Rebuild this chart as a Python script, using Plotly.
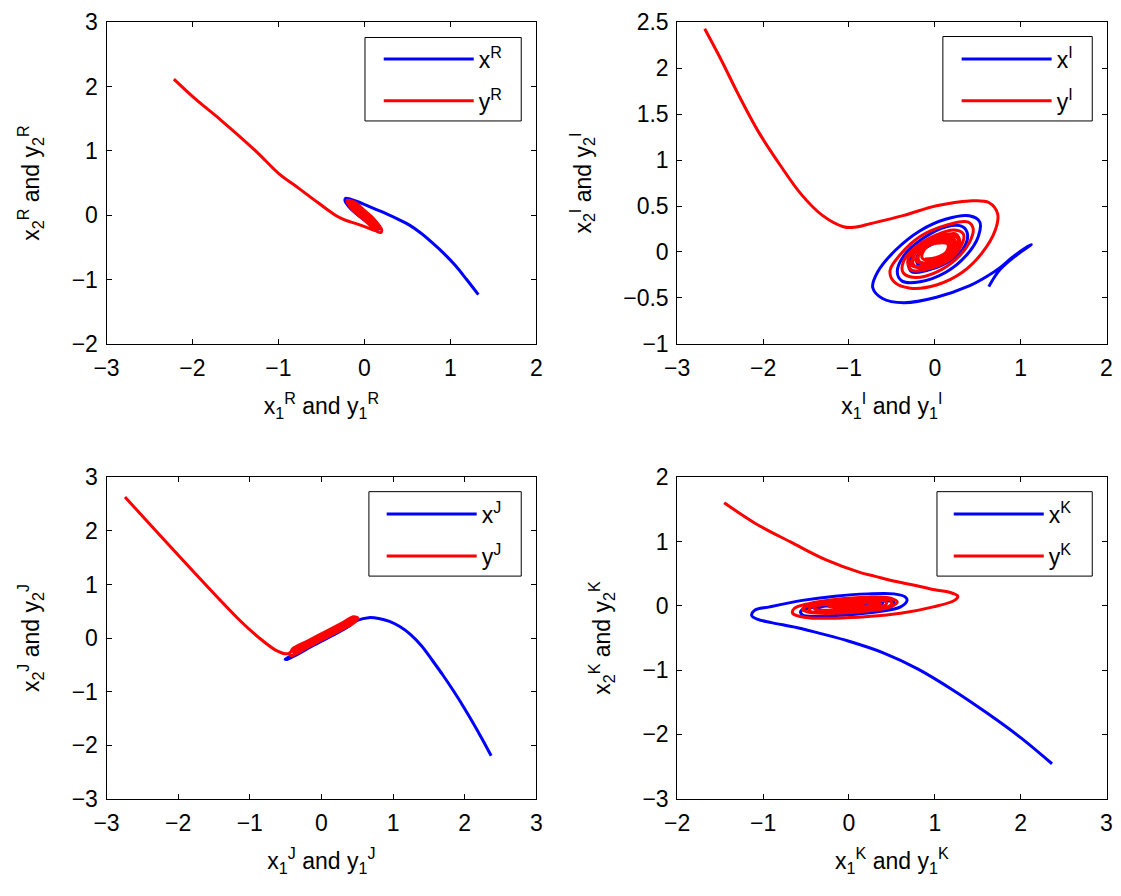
import plotly.graph_objects as go

# ---------------- data ----------------
# Panel R
R_x_1 = [1.326, 1.19, 1.059, 0.93, 0.792, 0.66, 0.525, 0.39, 0.259, 0.12, -0.008, -0.161, -0.218, -0.225,
         -0.180, -0.046, 0.106, 0.163, 0.144, 0.0, -0.17, -0.15, 0.0, 0.12, 0.0]
R_x_2 = [-1.235, -1.0, -0.782, -0.6, -0.430, -0.28, -0.154, -0.06, 0.022, 0.10, 0.173, 0.248, 0.264, 0.224,
         0.133, -0.028, -0.169, -0.219, -0.154, 0.02, 0.2, 0.15, -0.02, -0.15, 0.0]
R_y_1 = [-2.216, -1.96, -1.67, -1.265, -0.999, -0.770, -0.542, -0.332, -0.237, -0.046, 0.125, 0.190, 0.202,
         0.1, 0.0, -0.1, -0.2, -0.15, 0.0, 0.1, 0.16, 0.1, 0.0, -0.1, -0.17, -0.1, 0.0, 0.1, 0.13, 0.05,
         -0.05, -0.13, -0.05, 0.05, 0.08, 0.0, -0.08, 0.0]
R_y_2 = [2.116, 1.80, 1.48, 1.0, 0.651, 0.425, 0.198, -0.003, -0.068, -0.154, -0.239, -0.269, -0.229,
         -0.042, 0.075, 0.192, 0.228, 0.10, -0.075, -0.192, -0.205, -0.075, 0.04, 0.16, 0.195, 0.082, -0.04,
         -0.16, -0.165, -0.046, 0.07, 0.155, 0.035, -0.08, -0.1, 0.01, 0.1, 0.0]

# Panel I
I_x_1 = [0.629, 0.69, 0.76, 0.93, 1.124, 1.05, 0.90, 0.76, 0.60, 0.40, 0.020, -0.361, -0.609, -0.723, -0.666,
         -0.456, -0.171, 0.134, 0.401, 0.523, 0.507, 0.363, 0.134, -0.171, -0.380, -0.437, -0.361, -0.132,
         0.134, 0.325, 0.382, 0.325, 0.134, -0.094, -0.266, -0.304, -0.171, 0.058, 0.248, 0.279, 0.172,
         -0.018, -0.190, -0.209, -0.075, 0.134, 0.191, 0.058, -0.094]
I_x_2 = [-0.377, -0.28, -0.19, -0.05, 0.081, 0.04, -0.06, -0.17, -0.27, -0.37, -0.493, -0.553, -0.507, -0.387,
         -0.218, 0.021, 0.232, 0.359, 0.394, 0.327, 0.169, -0.042, -0.218, -0.324, -0.317, -0.218, -0.042,
         0.151, 0.275, 0.275, 0.187, 0.028, -0.120, -0.201, -0.218, -0.130, 0.046, 0.158, 0.176, 0.099,
         -0.042, -0.130, -0.141, -0.060, 0.063, 0.116, 0.046, -0.060, -0.095]
I_y_1 = [-2.68, -2.496, -2.29, -2.046, -1.80, -1.555, -1.309, -1.064, -0.941, -0.742, -0.361, 0.020, 0.401,
         0.629, 0.732, 0.705, 0.553, 0.325, 0.020, -0.285, -0.475, -0.521, -0.399, -0.171, 0.134, 0.382, 0.446,
         0.401, 0.248, 0.020, -0.228, -0.369, -0.361, -0.209, 0.020, 0.229, 0.332, 0.306, 0.153, -0.075,
         -0.266, -0.315, -0.295, -0.123, 0.096, 0.248, 0.29, 0.2, 0.03, -0.165, -0.285, -0.254, -0.228,
         -0.037, 0.172, 0.267, 0.248, 0.096, -0.094, -0.239, -0.254, -0.19, -0.008, 0.182, 0.242, 0.19,
         0.03, -0.136, -0.222, -0.190, -0.152, 0.020, 0.191, 0.218, 0.134, -0.037, -0.178, -0.190, -0.123,
         0.04, 0.172, 0.176, 0.077, -0.075, -0.15, -0.094, 0.058, 0.153, 0.134, 0.020, -0.113]
I_y_2 = [2.43, 2.106, 1.718, 1.296, 0.944, 0.627, 0.398, 0.275, 0.268, 0.310, 0.398, 0.503, 0.556, 0.539,
         0.415, 0.239, -0.007, -0.218, -0.359, -0.394, -0.324, -0.201, -0.025, 0.169, 0.292, 0.327, 0.257,
         0.099, -0.077, -0.218, -0.278, -0.225, -0.095, 0.063, 0.187, 0.240, 0.197, 0.063, -0.095, -0.183,
         -0.201, -0.120, -0.05, 0.09, 0.18, 0.196, 0.105, -0.015, -0.13, -0.175, -0.135, -0.07, 0.0,
         0.116, 0.176, 0.151, 0.046, -0.077, -0.148, -0.148, -0.070, 0.018, 0.116, 0.155, 0.113, 0.01,
         -0.09, -0.127, -0.09, -0.042, 0.035, 0.116, 0.134, 0.081, -0.025, -0.106, -0.106, -0.042, 0.045,
         0.108, 0.108, 0.04, -0.043, -0.09, -0.06, 0.056, 0.099, 0.081, 0.0, -0.060, -0.077]

# Panel J
J_x_1 = [2.37, 2.25, 2.15, 2.0, 1.85, 1.7, 1.55, 1.4, 1.25, 1.1, 0.95, 0.8, 0.66, 0.5, 0.3, 0.0, -0.3,
         -0.46, -0.507, -0.48, -0.4, -0.1, 0.2, 0.42, 0.40, 0.1, -0.2, -0.35, 0.0]
J_x_2 = [-2.2, -1.9, -1.66, -1.32, -1.0, -0.70, -0.42, -0.15, 0.06, 0.21, 0.31, 0.365, 0.38, 0.33, 0.18,
         -0.03, -0.25, -0.36, -0.396, -0.40, -0.35, -0.13, 0.08, 0.25, 0.25, 0.03, -0.18, -0.28, 0.0]
J_y_1 = [-2.742, -1.148, -0.873, -0.645, -0.507, -0.44, -0.4, -0.2, 0.1, 0.3, 0.45, 0.51, 0.45, 0.3, 0.1,
         -0.2, -0.42, -0.45, -0.4, -0.2, 0.1, 0.3, 0.46, 0.44, 0.3, 0.1, -0.2, -0.38, -0.35, 0.1, 0.4, 0.35,
         0.0]
J_y_2 = [2.634, 0.341, 0.008, -0.221, -0.294, -0.28, -0.20, -0.06, 0.15, 0.29, 0.395, 0.37, 0.28, 0.17,
         0.03, -0.18, -0.33, -0.29, -0.24, -0.095, 0.115, 0.255, 0.36, 0.315, 0.205, 0.065, -0.145, -0.27,
         -0.22, 0.09, 0.30, 0.25, 0.0]

# Panel K
K_x_1 = [2.365, 2.0, 1.6, 1.2, 0.8, 0.4, 0.0, -0.3, -0.6, -0.9, -1.06, -1.132, -1.10,
         -0.923, -0.541, -0.161, 0.220, 0.525, 0.658, 0.677, 0.601, 0.334, -0.047, -0.389, -0.542, -0.561,
         -0.427, -0.047, 0.334, 0.525, 0.506, 0.220, -0.161, -0.370, -0.351, 0.030, 0.392, 0.334, 0.0]
K_x_2 = [-2.457, -2.05, -1.66, -1.3, -0.98, -0.73, -0.55, -0.44, -0.34, -0.26, -0.21, -0.151, -0.07,
         -0.015, 0.086, 0.151, 0.187, 0.187, 0.136, 0.086, -0.015, -0.090, -0.141, -0.166, -0.141, -0.080,
         -0.025, 0.036, 0.071, 0.061, 0.0, -0.060, -0.090, -0.080, -0.030, 0.021, 0.041, -0.005, 0.0]
K_y_1 = [-1.453, -1.084, -0.675, -0.266, 0.143, 0.296, 0.55, 0.791, 1.0, 1.172, 1.268, 1.230, 0.982, 0.601,
         0.220, -0.161, -0.504, -0.656, -0.637, -0.466, -0.161, 0.220, 0.486, 0.563, 0.486, 0.220, -0.161,
         -0.466, -0.542, -0.5, -0.161, 0.220, 0.46, 0.5, 0.46, 0.220, -0.161, -0.46, -0.427, -0.161, 0.220,
         0.430, 0.430, 0.220, -0.161, -0.389, -0.408, -0.161, 0.220, 0.372, 0.220, -0.123, -0.237, -0.046,
         0.182]
K_y_2 = [1.606, 1.279, 0.992, 0.715, 0.514, 0.464, 0.38, 0.313, 0.25, 0.212, 0.151, 0.086, -0.015, -0.115,
         -0.166, -0.191, -0.181, -0.115, -0.040, 0.036, 0.101, 0.136, 0.121, 0.061, -0.015, -0.080, -0.115,
         -0.100, -0.050, -0.015, 0.081, 0.111, 0.1, 0.045, -0.01, -0.055, -0.09, -0.075, 0.010, 0.061,
         0.086, 0.071, 0.020, -0.030, -0.065, -0.055, -0.015, 0.031, 0.051, 0.036, 0.0, -0.025, -0.015,
         0.01, 0.021]

panels = [
    ("R", R_x_1, R_x_2, R_y_1, R_y_2, [-3, 2], [-2, 3], 1),
    ("I", I_x_1, I_x_2, I_y_1, I_y_2, [-3, 2], [-1, 2.5], 0.5),
    ("J", J_x_1, J_x_2, J_y_1, J_y_2, [-3, 3], [-3, 3], 1),
    ("K", K_x_1, K_x_2, K_y_1, K_y_2, [-2, 3], [-3, 2], 1),
]

# The page adds an 8 px body margin, so the figure is 16 px smaller than the window
OFF = 8
W, H = 1121 - 2 * OFF, 896 - 2 * OFF


def px(v):
    return (v - OFF) / W


def py(v):
    return 1 - (v - OFF) / H


xdoms = [[px(95), px(532.3)], [px(675.7), min(px(1113.3), 1104.5 / W)]]
ydoms = [[py(340.7), py(9.3)], [py(809.3), py(478.3)]]
# legend frames (reference pixels: left, top, right, bottom) and legend anchors (left, top)
legend_box = [(358, 25, 517, 111), (946, 24, 1098, 111), (362, 493, 517, 580), (940, 493, 1098, 580)]
legend_anchor = [(372, 25), (960, 25), (375, 494), (952, 494)]

FONT = "Liberation Sans, Arial, Helvetica, sans-serif"
FS = 23
fig = go.Figure()
layout = dict(width=W, height=H, margin=dict(l=0, r=0, t=0, b=0), paper_bgcolor="white",
              plot_bgcolor="white", font=dict(family=FONT, size=FS, color="black"), showlegend=True)
shapes = []

for i, (lab, bx, by, rx, ry, xr, yr, dy) in enumerate(panels):
    n = "" if i == 0 else str(i + 1)
    xa, ya = "x" + n, "y" + n
    lg = "legend" + n
    fig.add_trace(go.Scatter(x=bx, y=by, mode="lines", name="x<sup>%s</sup>" % lab,
                             line=dict(color="#0000ff", width=3, shape="spline", smoothing=1),
                             xaxis=xa, yaxis=ya, legend=lg, legendgroup=lab + "x"))
    fig.add_trace(go.Scatter(x=rx, y=ry, mode="lines", name="y<sup>%s</sup>" % lab,
                             line=dict(color="#ff0000", width=3, shape="spline", smoothing=1),
                             xaxis=xa, yaxis=ya, legend=lg, legendgroup=lab + "y"))
    col, row = i % 2, i // 2
    common = dict(showgrid=False, zeroline=False, showline=True, linecolor="black", linewidth=1,
                  mirror="allticks", ticks="inside", ticklen=5, tickcolor="black", tickwidth=1,
                  tickfont=dict(size=FS, family=FONT))
    layout["xaxis" + n] = dict(domain=xdoms[col], range=xr, dtick=1, anchor=ya, ticklabelstandoff=4,
                               title=dict(text="x<sub>1</sub><sup>%s</sup> and y<sub>1</sub><sup>%s</sup>" % (lab, lab),
                                          standoff=17, font=dict(size=FS)), **common)
    layout["yaxis" + n] = dict(domain=ydoms[row], range=yr, dtick=dy, anchor=xa, ticklabelstandoff=3,
                               title=dict(text="x<sub>2</sub><sup>%s</sup> and y<sub>2</sub><sup>%s</sup>" % (lab, lab),
                                          standoff=25, font=dict(size=FS)), **common)
    lx, ly = legend_anchor[i]
    layout[lg] = dict(x=px(lx), y=py(ly), xanchor="left", yanchor="top", bgcolor="rgba(0,0,0,0)",
                      borderwidth=0, font=dict(size=FS, family=FONT), itemwidth=90, traceorder="grouped",
                      tracegroupgap=9)
    x0, y0, x1, y1 = legend_box[i]
    shapes.append(dict(type="rect", xref="paper", yref="paper", x0=px(x0), x1=px(x1), y0=py(y1),
                       y1=py(y0), fillcolor="white", line=dict(color="black", width=1), layer="above"))

layout["shapes"] = shapes
fig.update_layout(**layout)
fig.write_html("out.html", config={"displayModeBar": False})
